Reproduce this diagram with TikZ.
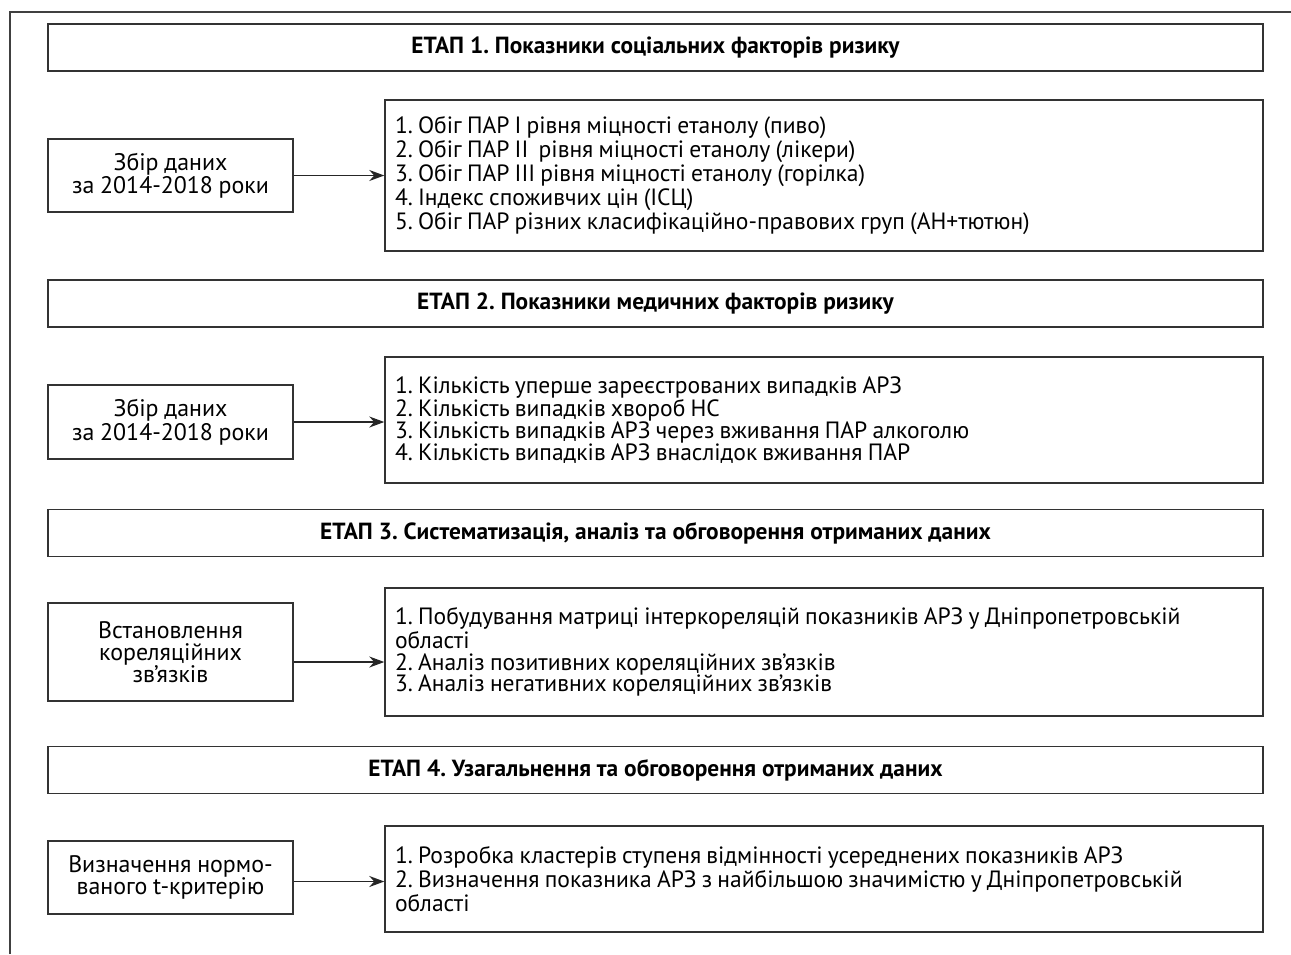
\documentclass[tikz,border=0pt]{standalone}
\usepackage{fontspec}
\setmainfont{PT Sans}
\usetikzlibrary{arrows.meta}
\frenchspacing

\tikzset{
    stagehead/.style={draw=black!80, line width=0.9pt, rectangle, minimum width=24.3cm, minimum height=0.94cm, font=\fontsize{13.3}{12}\selectfont\bfseries},
    srcbox/.style={draw=black!80, line width=0.9pt, rectangle, minimum width=4.9cm, align=center, font=\fontsize{13.6}{12.4}\selectfont, execute at begin node={\spaceskip 0.24em\relax}},
    listbox/.style={draw=black!80, line width=0.9pt, rectangle, text width=17.16cm, inner xsep=0.2cm, align=left, font=\fontsize{13.4}{12.4}\selectfont, execute at begin node={\spaceskip 0.22em\relax}},
    flow/.style={draw=black!85, line width=0.8pt, -{Stealth[length=0.3cm, width=0.22cm]}}
}

\begin{document}
\begin{tikzpicture}[x=0.02cm, y=-0.02cm]
            \useasboundingbox (0,0) rectangle (1291,954);
            \draw[black!75, line width=0.8pt] (10,954) |- (1291,12);

            \node[stagehead] (et1) at (655.5,47.5) {ЕТАП 1. Показники соціальних факторів ризику};
            \node[srcbox, minimum height=1.46cm] (zb1) at (170.5,175.5) {Збір даних\\за 2014-2018 роки};
            \node[listbox, minimum height=3.02cm] (ls1) at (824,175.5) {
                1. Обіг ПАР I рівня міцності етанолу (пиво)\\
                2. Обіг ПАР II~ рівня міцності етанолу (лікери)\\
                3. Обіг ПАР III рівня міцності етанолу (горілка)\\
                4. Індекс споживчих цін (ІСЦ)\\
                5. Обіг ПАР різних класифікаційно-правових груп (АН+тютюн)
            };
            \draw[flow] (zb1.east) -- (zb1.east -| ls1.west);

            \node[stagehead] (et2) at (655.5,303.5) {ЕТАП 2. Показники медичних факторів ризику};
            \node[srcbox, minimum height=1.48cm] (zb2) at (170.5,422) {Збір даних\\за 2014-2018 роки};
            \node[listbox, minimum height=2.52cm] (ls2) at (824,420) {
                1. Кількість уперше зареєстрованих випадків АРЗ\\
                2. Кількість випадків хвороб НС\\
                3. Кількість випадків АРЗ через вживання ПАР алкоголю\\
                4. Кількість випадків АРЗ внаслідок вживання ПАР
            };
            \draw[flow] (zb2.east) -- (zb2.east -| ls2.west);

            \node[stagehead] (et3) at (655.5,533) {ЕТАП 3. Систематизація, аналіз та обговорення отриманих даних};
            \node[srcbox, minimum height=1.96cm] (vk3) at (170.5,652) {Встановлення\\кореляційних\\зв’язків};
            \node[listbox, minimum height=2.56cm] (ls3) at (824,652) {
                1. Побудування матриці інтеркореляцій показників АРЗ у Дніпропетровській\\
                області\\
                2. Аналіз позитивних кореляційних зв’язків\\
                3. Аналіз негативних кореляційних зв’язків
            };
            \draw[flow] ([yshift=-0.2cm]vk3.east) -- ([yshift=-0.2cm]vk3.east -| ls3.west);

            \node[stagehead] (et4) at (655.5,770) {ЕТАП 4. Узагальнення та обговорення отриманих даних};
            \node[srcbox, minimum height=1.46cm] (vn4) at (170.5,877.5) {Визначення нормо-\\ваного t-критерію};
            \node[listbox, minimum height=2.12cm] (ls4) at (824,879) {
                1. Розробка кластерів ступеня відмінності усереднених показників АРЗ\\
                2. Визначення показника АРЗ з найбільшою значимістю у Дніпропетровській\\
                області
            };
            \draw[flow] ([yshift=-0.08cm]vn4.east) -- ([yshift=-0.08cm]vn4.east -| ls4.west);
        \end{tikzpicture}
\end{document}
